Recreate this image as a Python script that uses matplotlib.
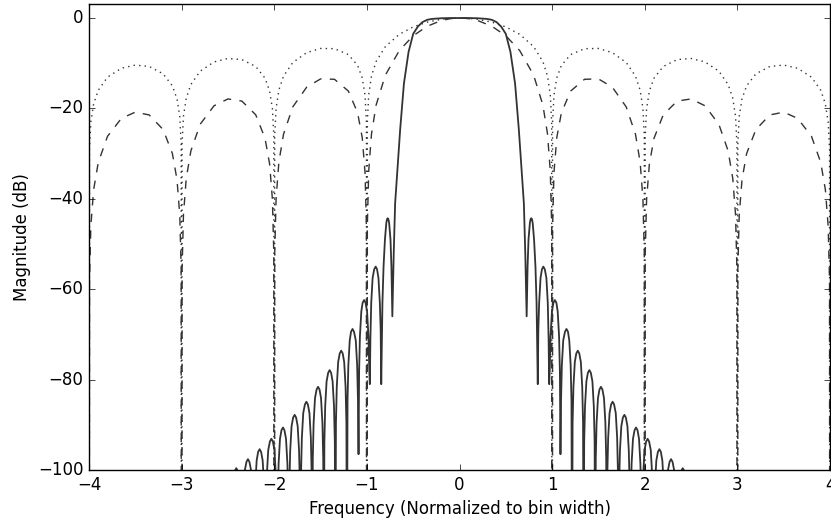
"""
Filter bank channel response: PFB vs. plain FFT bins
"""
import numpy as np
import matplotlib
matplotlib.use('Agg')
import matplotlib.pyplot as plt

plt.style.use('classic')

NULL = -300.0  # exact zeros of the response, drawn below the axis

###############################################################################
# Values (right half, the picture is symmetric)

# FFT bin response, sampled per lobe
fft_x = [0.0, 0.02, 0.05, 0.1, 0.2, 0.35, 0.5, 0.65, 0.8, 0.9, 0.95, 0.98, 0.995,
         1.0, 1.005, 1.02, 1.05, 1.1, 1.2, 1.35, 1.5, 1.65, 1.8, 1.9, 1.95, 1.98, 1.995,
         2.0, 2.005, 2.02, 2.05, 2.1, 2.2, 2.35, 2.5, 2.65, 2.8, 2.9, 2.95, 2.98, 2.995,
         3.0, 3.005, 3.02, 3.05, 3.1, 3.2, 3.35, 3.5, 3.65, 3.8, 3.9, 3.95, 3.98, 3.995,
         4.0]

# amplitude response (dB), dashed
fft_amp_db = [0.0, -0.01, -0.04, -0.14, -0.58, -1.83, -3.92, -7.20, -12.62, -19.23, -25.61, -33.81, -45.98,
              NULL, -46.07, -34.16, -26.48, -20.97, -16.15, -13.55, -13.47, -15.29, -19.67, -25.72, -31.85, -39.92, -52.01,
              NULL, -52.07, -40.09, -32.29, -26.59, -21.41, -18.37, -17.90, -19.41, -23.51, -29.39, -35.45, -43.47, -55.55,
              NULL, -55.58, -43.58, -35.74, -29.97, -24.67, -21.44, -20.82, -22.19, -26.16, -31.96, -37.98, -45.98, -58.05,
              NULL]

# power response (dB), dotted
fft_pow_db = [0.0, -0.003, -0.02, -0.07, -0.29, -0.91, -1.96, -3.60, -6.31, -9.62, -12.81, -16.91, -22.99,
              NULL, -23.04, -17.08, -13.24, -10.49, -8.08, -6.78, -6.73, -7.65, -9.84, -12.86, -15.93, -19.96, -26.00,
              NULL, -26.04, -20.05, -16.15, -13.30, -10.71, -9.19, -8.95, -9.71, -11.76, -14.70, -17.73, -21.74, -27.78,
              NULL, -27.79, -21.79, -17.87, -14.99, -12.34, -10.72, -10.41, -11.10, -13.08, -15.98, -18.99, -22.99, -29.03,
              NULL]

# PFB channel response (dB), solid: main lobe then one row per sidelobe
pfb_x = [0.0, 0.1, 0.2, 0.3, 0.35, 0.4, 0.45, 0.5, 0.55, 0.6, 0.64, 0.67, 0.695, 0.71, 0.725,
         0.735, 0.745, 0.76, 0.768, 0.775, 0.782, 0.79, 0.805, 0.82, 0.832, 0.845,
         0.851, 0.86, 0.875, 0.89, 0.905, 0.921, 0.938, 0.953, 0.962, 0.968,
         0.974, 0.983, 0.998, 1.014, 1.03, 1.046, 1.06, 1.075, 1.084, 1.09,
         1.096, 1.105, 1.12, 1.139, 1.155, 1.171, 1.185, 1.2, 1.209, 1.215,
         1.221, 1.23, 1.245, 1.261, 1.277, 1.293, 1.31, 1.325, 1.334, 1.34,
         1.346, 1.355, 1.37, 1.386, 1.402, 1.418, 1.435, 1.45, 1.459, 1.465,
         1.471, 1.48, 1.495, 1.511, 1.527, 1.543, 1.56, 1.575, 1.584, 1.59,
         1.596, 1.605, 1.62, 1.637, 1.653, 1.669, 1.687, 1.702, 1.711, 1.717,
         1.723, 1.732, 1.747, 1.764, 1.78, 1.796, 1.813, 1.828, 1.837, 1.843,
         1.849, 1.858, 1.873, 1.89, 1.906, 1.922, 1.938, 1.953, 1.962, 1.968,
         1.974, 1.983, 1.998, 2.015, 2.031, 2.047, 2.065, 2.08, 2.089, 2.095,
         2.101, 2.11, 2.125, 2.142, 2.158, 2.174, 2.19, 2.205, 2.214, 2.22,
         2.226, 2.235, 2.25, 2.268, 2.284, 2.3, 2.318, 2.333, 2.342, 2.348,
         2.375, 2.394, 2.41, 2.426, 2.44, 2.47, 4.0]
pfb_db = [0.0, 0.0, -0.05, -0.2, -0.4, -0.9, -1.9, -3.5, -7.5, -14.5, -24.5, -33.5, -41.0, -52.0, -66.0,
          -55.0, -49.0, -45.3, -44.5, -44.3, -44.5, -45.3, -49.0, -55.0, -63.0, -81.0,
          -69.0, -63.0, -57.5, -55.6, -55.0, -55.6, -57.5, -63.0, -71.0, -81.0,
          -78.0, -70.4, -64.9, -63.0, -62.4, -63.0, -64.9, -70.4, -78.4, -96.5,
          -84.8, -76.8, -71.3, -69.4, -68.8, -69.4, -71.3, -76.8, -84.8, -130.0,
          -89.6, -81.6, -76.1, -74.2, -73.6, -74.2, -76.1, -81.6, -89.6, -130.0,
          -93.9, -85.9, -80.4, -78.5, -77.9, -78.5, -80.4, -85.9, -93.9, -130.0,
          -97.6, -89.6, -84.1, -82.2, -81.6, -82.2, -84.1, -89.6, -97.6, -130.0,
          -100.9, -92.9, -87.4, -85.5, -84.9, -85.5, -87.4, -92.9, -100.9, -130.0,
          -103.8, -95.8, -90.3, -88.4, -87.8, -88.4, -90.3, -95.8, -103.8, -130.0,
          -106.6, -98.6, -93.1, -91.2, -90.6, -91.2, -93.1, -98.6, -106.6, -130.0,
          -109.1, -101.1, -95.6, -93.7, -93.1, -93.7, -95.6, -101.1, -109.1, -130.0,
          -111.4, -103.4, -97.9, -96.0, -95.4, -96.0, -97.9, -103.4, -111.4, -130.0,
          -113.6, -105.6, -100.1, -98.2, -97.6, -98.2, -100.1, -105.6, -113.6, -130.0,
          -102.1, -100.2, -99.6, -100.2, -102.1, -130.0, -130.0]


def mirror(x, y):
    x = np.asarray(x)
    y = np.asarray(y)
    return (np.concatenate([-x[::-1], x[1:]]),
            np.concatenate([y[::-1], y[1:]]))


###############################################################################
# Plot
fig = plt.figure(figsize=(8.31, 5.21), dpi=100, facecolor='white')
ax = fig.add_axes([0.1071, 0.0979, 0.8917, 0.8935])

x, y = mirror(fft_x, fft_pow_db)
ax.plot(x, y, color='0.2', linestyle=(0, (1, 3)), linewidth=1.0)
x, y = mirror(fft_x, fft_amp_db)
ax.plot(x, y, color='0.2', linestyle=(0, (6, 6)), linewidth=1.0)
x, y = mirror(pfb_x, pfb_db)
ax.plot(x, y, color='0.2', linestyle='-', linewidth=1.3)

ax.set_xlim(-4, 4)
ax.set_ylim(-100, 3)
ax.set_xticks(np.arange(-4, 5, 1))
ax.set_yticks(np.arange(-100, 1, 20))
ax.set_xlabel('Frequency (Normalized to bin width)')
ax.set_ylabel('Magnitude (dB)')

fig.savefig('out.png', dpi=100, facecolor='white')
